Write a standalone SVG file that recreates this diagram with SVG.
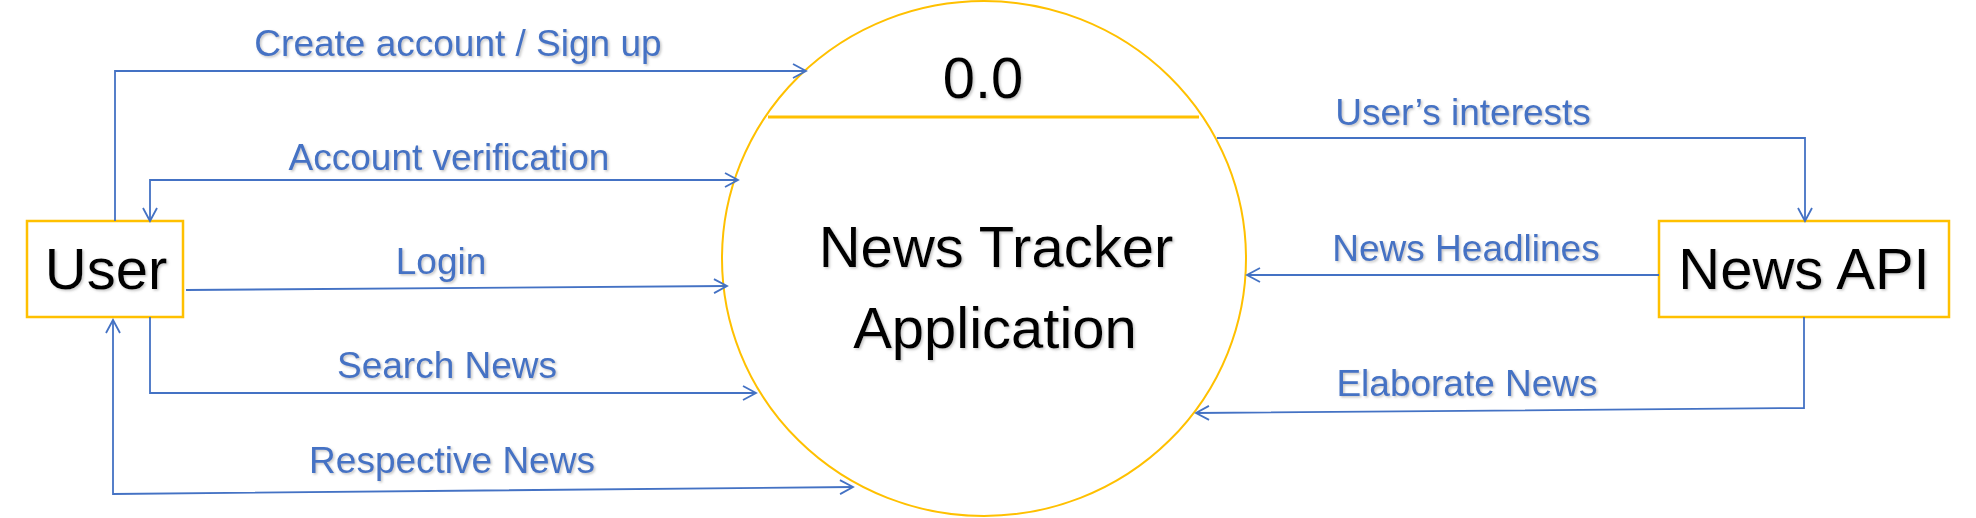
<svg xmlns="http://www.w3.org/2000/svg" width="1976" height="518" viewBox="0 0 1976 518">
<style>
.lbl{font-family:"Liberation Sans",Arial,sans-serif;font-size:37px;fill:#4472C4;text-anchor:middle;filter:url(#sh)}
.big{font-family:"Liberation Sans",Arial,sans-serif;font-size:58px;fill:#000;text-anchor:middle;filter:url(#sh)}
.box{fill:#fff;stroke:#FFC000;stroke-width:2.5}
.con{fill:none;stroke:#4472C4;stroke-width:1.8}
</style>
<defs>
<filter id="sh" x="-10%" y="-20%" width="130%" height="150%">
<feDropShadow dx="1.5" dy="1.5" stdDeviation="1" flood-color="#7f7f7f" flood-opacity="0.45"/>
</filter>
<marker id="arr" viewBox="-15 -9 17 18" refX="0" refY="0" markerWidth="17" markerHeight="18" markerUnits="userSpaceOnUse" orient="auto-start-reverse">
<path d="M-13,-7 L0,0 L-13,7" fill="none" stroke="#4472C4" stroke-width="1.8"/>
</marker>
</defs>
<rect width="1976" height="518" fill="#fff"/>
<g id="process">
<ellipse cx="984" cy="258.5" rx="262" ry="257.5" fill="#fff" stroke="#FFC000" stroke-width="2"/>
<line x1="768" y1="117" x2="1199" y2="117" stroke="#FFC000" stroke-width="3"/>
<text class="big" x="983" y="98">0.0</text>
<text class="big" x="996" y="267">News Tracker</text>
<text class="big" x="995" y="348">Application</text>
</g>
<g id="user">
<rect class="box" x="27" y="221" width="156" height="96"/>
<text class="big" x="106" y="289">User</text>
</g>
<g id="newsapi">
<rect class="box" x="1659" y="221" width="290" height="96"/>
<text class="big" x="1804" y="289">News API</text>
</g>
<g id="connectors">
<path class="con" d="M115,221 V71 H806" stroke-width="1.5" marker-end="url(#arr)"/>
<path class="con" d="M150,221 V180 H738" marker-start="url(#arr)" marker-end="url(#arr)"/>
<path class="con" d="M186,290 L727,286" marker-end="url(#arr)"/>
<path class="con" d="M150,317 V393 H756" marker-end="url(#arr)"/>
<path class="con" d="M113,320 V494 L853,487" stroke-width="2.6" marker-start="url(#arr)" marker-end="url(#arr)"/>
<path class="con" d="M1217,138 H1805 V221" stroke-width="1.5" marker-end="url(#arr)"/>
<path class="con" d="M1659,275 H1247" stroke-width="2.2" marker-end="url(#arr)"/>
<path class="con" d="M1804,317 V408 L1196,413" stroke-width="2" marker-end="url(#arr)"/>
<text class="lbl" x="458" y="56">Create account / Sign up</text>
<text class="lbl" x="449" y="170">Account verification</text>
<text class="lbl" x="441" y="274">Login</text>
<text class="lbl" x="447" y="378">Search News</text>
<text class="lbl" x="452" y="473">Respective News</text>
<text class="lbl" x="1463" y="125">User’s interests</text>
<text class="lbl" x="1466" y="261">News Headlines</text>
<text class="lbl" x="1467" y="396">Elaborate News</text>
</g>
</svg>
